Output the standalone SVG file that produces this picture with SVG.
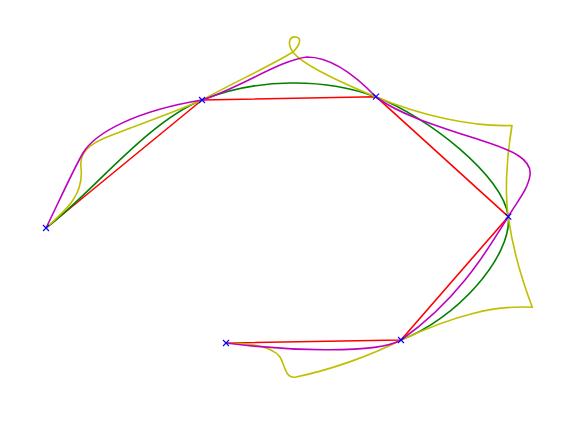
<svg xmlns="http://www.w3.org/2000/svg" width="569" height="436" viewBox="0 0 569 436">
<style>
.c{fill:none;stroke-width:1.6;stroke-linejoin:round;stroke-linecap:round}
.r{stroke:#ff0000}
.g{stroke:#008000}
.m{stroke:#bf00bf}
.y{stroke:#bfbf00}
.mk{fill:none;stroke:#0000ff;stroke-width:1.1}
</style>
<defs>
<path id="x" d="M-3,-3L3,3M-3,3L3,-3"/>
</defs>
<rect width="569" height="436" fill="#ffffff"/>
<g id="connectors">
<path class="c r" d="M46,228 L202,100 L376,96.7 L508.3,216.7 L401,340 L226,343"/>
<path class="c g" d="M46,228 C90,195 147,121.8 202,100 C257,78 325,77.7 376,97 C427,116.3 503.8,176 508.3,216.7 C512.2,257 455,320 401,340"/>
<path class="c y" d="M46,228 C66,210 84,195 81,168 C79,152 90,144 107,137 C140,124 175,112 202,100 C235,82 270,66 293,52 C300,45 302,38 296,37 C289,36 287,44 293,52 C300,62 330,78 376,97 C420,115 470,127 512,125.5 C506,160 505,195 508.3,216.7 C512,245 522,280 532.3,307.3 C495,305 455,315 401,340 C370,356 330,370 296,377 C285,379 285,365 280,357 C272,346 250,343 226,343"/>
<path class="c m" d="M46,228 C56,208 73,170 83,153 C95,133 135,111 202,100 C240,88 280,60 307,57 C330,57 355,75 376,97 C400,115 440,127 480,140 C515,151 532,160 530,175 C528,190 516,203 508.3,216.7 C494,238 465,295 401,340 C375,355 280,350 226,343"/>
</g>
<g id="p0" class="mk"><use href="#x" x="46" y="228"/></g>
<g id="p1" class="mk"><use href="#x" x="202" y="100"/></g>
<g id="p2" class="mk"><use href="#x" x="376" y="96.7"/></g>
<g id="p3" class="mk"><use href="#x" x="508.3" y="216.7"/></g>
<g id="p4" class="mk"><use href="#x" x="401" y="340"/></g>
<g id="p5" class="mk"><use href="#x" x="226" y="343"/></g>
</svg>
